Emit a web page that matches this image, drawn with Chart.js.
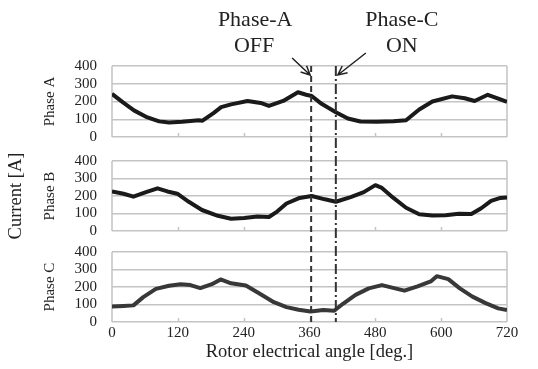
<!DOCTYPE html>
<html>
<head>
<meta charset="utf-8">
<script src="https://cdn.jsdelivr.net/npm/chart.js@4/dist/chart.umd.min.js"></script>
<style>
  body { margin: 0; background: #fff; }
  #wrap { position: relative; width: 538px; height: 369px; }
  #wrap canvas { position: absolute; left: 0; top: 0; }
</style>
</head>
<body>
<div id="wrap">
  <canvas id="chartA" width="538" height="369"></canvas>
  <canvas id="chartB" width="538" height="369"></canvas>
  <canvas id="chartC" width="538" height="369"></canvas>
</div>
<script>
// data (rotor electrical angle [deg] -> current [A])
const angleA = [0, 20, 40, 62, 86, 104, 128, 158, 165, 185, 199, 217, 247, 271, 286, 312, 339, 354, 364, 382, 408, 430, 453, 483, 513, 536, 560, 584, 620, 643, 661, 685, 708, 720];
const currentA = [243, 195, 150, 114, 88, 82, 86, 94, 92, 135, 168, 184, 203, 192, 175, 203, 252, 238, 231, 187, 140, 104, 87, 86, 89, 94, 155, 200, 229, 218, 203, 238, 212, 198];

const angleB = [0, 21, 39, 62, 83, 101, 119, 140, 164, 193, 217, 241, 265, 286, 301, 318, 342, 364, 388, 408, 435, 459, 480, 492, 513, 536, 560, 584, 608, 632, 655, 673, 691, 708, 720];
const currentB = [226, 213, 196, 222, 244, 226, 213, 167, 120, 87, 70, 74, 83, 80, 111, 157, 189, 200, 181, 167, 194, 222, 262, 246, 189, 133, 96, 89, 90, 98, 97, 130, 172, 189, 192];

const angleC = [0, 21, 39, 57, 80, 104, 125, 143, 161, 182, 198, 217, 244, 271, 295, 318, 340, 362, 385, 405, 421, 444, 468, 492, 516, 533, 557, 581, 592, 613, 634, 657, 681, 704, 720];
const currentC = [88, 92, 95, 142, 189, 207, 216, 211, 194, 216, 243, 221, 209, 159, 113, 85, 70, 60, 69, 64, 104, 155, 192, 211, 192, 179, 204, 232, 262, 245, 192, 145, 108, 78, 68];

const xTicks = [0, 120, 240, 360, 480, 600, 720];
const yTicks = [0, 100, 200, 300, 400];
const offAngle = 363;   // Phase-A OFF
const onAngle = 408;    // Phase-C ON

const SERIF = '"Liberation Serif", "DejaVu Serif", serif';
const GRID = '#c4c4c4';

// left/right box edges + small inner tick marks on the bottom edge
const framePlugin = {
  id: 'frame',
  beforeDatasetsDraw(chart) {
    const { ctx, chartArea: a, scales: { x } } = chart;
    ctx.save();
    ctx.strokeStyle = GRID;
    ctx.lineWidth = 1.5;
    ctx.beginPath();
    ctx.moveTo(a.left, a.top); ctx.lineTo(a.left, a.bottom);
    ctx.moveTo(a.right, a.top); ctx.lineTo(a.right, a.bottom);
    xTicks.slice(1, -1).forEach(v => {
      const px = Math.round(x.getPixelForValue(v)) + 0.5;
      ctx.moveTo(px, a.bottom); ctx.lineTo(px, a.bottom - 4);
    });
    ctx.stroke();
    ctx.restore();
  }
};

function makeChart(id, label, angles, values, color, padTop, padBottom, showX, extra) {
  return new Chart(document.getElementById(id), {
    type: 'line',
    data: {
      datasets: [{
        data: angles.map((a, i) => ({ x: a, y: values[i] })),
        borderColor: color,
        borderWidth: 4,
        borderJoinStyle: 'round',
        pointRadius: 0,
        tension: 0
      }]
    },
    options: {
      responsive: false,
      animation: false,
      events: [],
      layout: { padding: { left: 0, right: 31, top: padTop, bottom: padBottom } },
      plugins: { legend: { display: false }, tooltip: { enabled: false } },
      scales: {
        x: {
          type: 'linear', min: 0, max: 720,
          display: showX,
          afterBuildTicks: s => { s.ticks = xTicks.map(v => ({ value: v })); },
          afterFit: s => { s.height = showX ? 47 : 0; },
          grid: { display: false, drawTicks: false },
          border: { display: false },
          ticks: { padding: 2, color: '#222', font: { family: SERIF, size: 15 }, maxRotation: 0, autoSkip: false },
          title: { display: true, text: 'Rotor electrical angle [deg.]', color: '#222',
                   font: { family: SERIF, size: 18.5 }, padding: { top: 0, bottom: 6 } }
        },
        y: {
          min: 0, max: 400,
          afterBuildTicks: s => { s.ticks = yTicks.map(v => ({ value: v })); },
          afterFit: s => { s.width = 112; },
          grid: { color: GRID, lineWidth: 1.5, drawTicks: false },
          border: { display: false },
          ticks: { padding: 15, color: '#222', font: { family: SERIF, size: 15 }, autoSkip: false },
          title: { display: true, text: label, color: '#222',
                   font: { family: SERIF, size: 15 }, padding: { top: 41, bottom: 0 } }
        }
      }
    },
    plugins: [framePlugin].concat(extra || [])
  });
}

function arrow(ctx, x1, y1, x2, y2) {
  const ang = Math.atan2(y2 - y1, x2 - x1);
  const h = 10;
  ctx.beginPath();
  ctx.moveTo(x1, y1); ctx.lineTo(x2, y2);
  ctx.moveTo(x2 - h * Math.cos(ang - 0.45), y2 - h * Math.sin(ang - 0.45));
  ctx.lineTo(x2, y2);
  ctx.lineTo(x2 - h * Math.cos(ang + 0.45), y2 - h * Math.sin(ang + 0.45));
  ctx.stroke();
}

const notePlugin = {
  id: 'notes',
  afterDraw(chart) {
    const { ctx, chartArea: a, scales: { x } } = chart;
    const xOff = x.getPixelForValue(offAngle);
    const xOn = x.getPixelForValue(onAngle);
    ctx.save();
    ctx.fillStyle = '#222';
    ctx.font = '22px ' + SERIF;
    ctx.textAlign = 'center';
    ctx.textBaseline = 'middle';
    ctx.fillText('Phase-A', xOff - 56, 20);
    ctx.fillText('OFF', xOff - 57, 46);
    ctx.fillText('Phase-C', xOn + 66, 20);
    ctx.fillText('ON', xOn + 66, 46);
    ctx.strokeStyle = '#222';
    ctx.lineWidth = 1.5;
    arrow(ctx, xOff - 19, a.top - 8, xOff - 1, a.top + 9);
    arrow(ctx, xOn + 30, a.top - 13, xOn + 2, a.top + 9);
    ctx.restore();
  }
};

const chartA = makeChart('chartA', 'Phase A', angleA, currentA, '#1a1a1a', 66, 232, false, [notePlugin]);

const yTitlePlugin = {
  id: 'ytitle',
  afterDraw(chart) {
    const { ctx } = chart;
    ctx.save();
    ctx.fillStyle = '#222';
    ctx.font = '18.5px ' + SERIF;
    ctx.textAlign = 'center';
    ctx.textBaseline = 'middle';
    ctx.translate(16, 196);
    ctx.rotate(-Math.PI / 2);
    ctx.fillText('Current [A]', 0, 0);
    ctx.restore();
  }
};

const chartB = makeChart('chartB', 'Phase B', angleB, currentB, '#1a1a1a', 161, 138, false, [yTitlePlugin]);

const markerPlugin = {
  id: 'markers',
  afterDatasetsDraw(chart) {
    const { ctx, chartArea: a, scales: { x } } = chart;
    const top = chartA.chartArea.top;
    ctx.save();
    ctx.strokeStyle = '#333';
    ctx.lineWidth = 2;
    ctx.setLineDash([6, 4]);
    ctx.beginPath();
    ctx.moveTo(x.getPixelForValue(offAngle), top);
    ctx.lineTo(x.getPixelForValue(offAngle), a.bottom);
    ctx.stroke();
    ctx.setLineDash([10, 3, 2, 3]);
    ctx.beginPath();
    ctx.moveTo(x.getPixelForValue(onAngle), top);
    ctx.lineTo(x.getPixelForValue(onAngle), a.bottom);
    ctx.stroke();
    ctx.restore();
  }
};

const chartC = makeChart('chartC', 'Phase C', angleC, currentC, '#383838', 252, 0, true, [markerPlugin]);
</script>
</body>
</html>
